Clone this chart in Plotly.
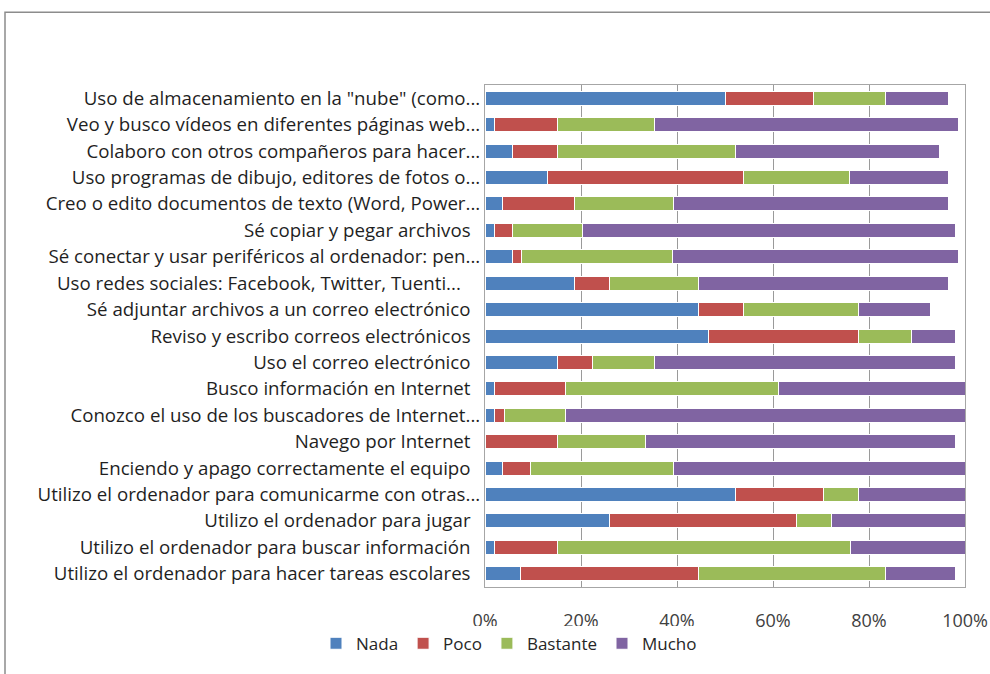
import plotly.graph_objects as go

categories = [
    "Uso de almacenamiento en la \"nube\" (como...",
    "Veo y busco vídeos en diferentes páginas web...",
    "Colaboro con otros compañeros para hacer...",
    "Uso programas de dibujo, editores de fotos o...",
    "Creo o edito documentos de texto (Word, Power...",
    "Sé copiar y pegar archivos\u00a0\u00a0",
    "Sé conectar y usar periféricos al ordenador: pen...",
    "Uso redes sociales: Facebook, Twitter, Tuenti...\u00a0\u00a0\u00a0\u00a0",
    "Sé adjuntar archivos a un correo electrónico\u00a0\u00a0",
    "Reviso y escribo correos electrónicos\u00a0\u00a0",
    "Uso el correo electrónico\u00a0\u00a0",
    "Busco información en Internet\u00a0\u00a0",
    "Conozco el uso de los buscadores de Internet...",
    "Navego por Internet\u00a0\u00a0",
    "Enciendo y apago correctamente el equipo\u00a0\u00a0",
    "Utilizo el ordenador para comunicarme con otras...",
    "Utilizo el ordenador para jugar\u00a0\u00a0",
    "Utilizo el ordenador para buscar información\u00a0\u00a0",
    "Utilizo el ordenador para hacer tareas escolares\u00a0\u00a0",
]

nada = [50.0, 1.9, 5.7, 13.1, 3.6, 1.9, 5.7, 18.7, 44.4, 46.5,
        15.1, 1.9, 1.9, 0.0, 3.6, 52.2, 26.0, 1.9, 7.3]
poco = [18.4, 13.2, 9.4, 40.7, 15.1, 3.8, 1.9, 7.3, 9.4, 31.3,
        7.3, 14.8, 2.1, 15.1, 5.8, 18.3, 38.8, 13.2, 37.1]
bastante = [15.1, 20.3, 37.1, 22.1, 20.5, 14.6, 31.5, 18.4, 24.0, 11.0,
            13.0, 44.4, 12.7, 18.4, 29.8, 7.3, 7.4, 61.1, 39.1]
mucho = [13.0, 63.2, 42.4, 20.6, 57.3, 77.8, 59.5, 52.1, 15.0, 9.3,
         62.7, 38.9, 83.3, 64.6, 60.8, 22.2, 27.8, 23.8, 14.6]

series = [
    ("Nada", nada, "#4F81BD"),
    ("Poco", poco, "#C0504D"),
    ("Bastante", bastante, "#9BBB59"),
    ("Mucho", mucho, "#8064A2"),
]

tick_vals = [0, 20, 40, 60, 80, 100]
tick_text = ["0%", "20%", "40%", "60%", "80%", "100%"]

fig = go.Figure()
for name, values, color in series:
    fig.add_trace(
        go.Bar(
            y=categories,
            x=values,
            name=name,
            orientation="h",
            marker=dict(color=color, line=dict(color="white", width=1)),
        )
    )

# outer frame of the pasted chart
fig.add_shape(
    type="path",
    xref="paper",
    yref="paper",
    path="M -1.0,-0.2 L -1.0,1.145 L 1.07,1.145",
    line=dict(color="#8c8c8c", width=1.5),
)

fig.update_layout(
    width=990,
    height=674,
    barmode="stack",
    bargap=0.47,
    paper_bgcolor="white",
    plot_bgcolor="white",
    margin=dict(l=485, r=25, t=85, b=68),
    font=dict(family="Open Sans", size=17, color="#262626"),
    showlegend=True,
    legend=dict(
        orientation="h",
        x=0.05,
        xanchor="center",
        y=-0.113,
        yanchor="middle",
        font=dict(size=17, color="#262626"),
        itemwidth=30,
        traceorder="normal",
    ),
    xaxis=dict(
        range=[0, 100],
        tickvals=tick_vals,
        ticktext=tick_text,
        automargin=False,
        showgrid=True,
        gridcolor="#9a9a9a",
        gridwidth=1,
        zeroline=False,
        showline=True,
        mirror=True,
        linecolor="#a6a6a6",
        linewidth=1,
        ticks="",
        ticklabelstandoff=17,
        tickfont=dict(size=18, color="#404040"),
    ),
    yaxis=dict(
        autorange="reversed",
        automargin=False,
        showline=True,
        mirror=True,
        linecolor="#a6a6a6",
        linewidth=1,
        ticks="",
        ticklabelstandoff=0,
        tickfont=dict(size=18.7, color="#1f1f1f"),
    ),
)

fig.write_html(
    "out.html",
    config={"displayModeBar": False},
    post_script="document.body.style.margin='0px';",
)
